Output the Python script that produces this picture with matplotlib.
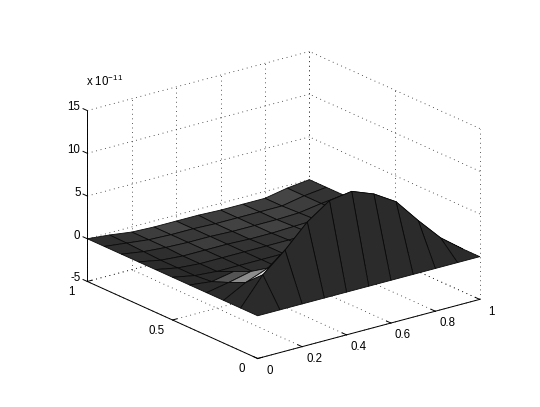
import matplotlib
matplotlib.use("Agg")
import matplotlib.pyplot as plt
import numpy as np
from mpl_toolkits.mplot3d import proj3d

plt.rcParams["font.family"] = ["Liberation Sans", "DejaVu Sans"]
plt.rcParams["mathtext.fontset"] = "custom"
plt.rcParams["mathtext.rm"] = "Liberation Sans"
plt.rcParams["mathtext.default"] = "regular"

X_VALUES = [0.0, 0.1, 0.2, 0.3, 0.4, 0.5, 0.6, 0.7, 0.8, 0.9, 1.0]
Y_VALUES = [0.0, 0.1, 0.2, 0.3, 0.4, 0.5, 0.6, 0.7, 0.8, 0.9, 1.0]

# height in units of 1e-11, one row per y value
Z_ROWS = [
    [0, 0, 0, 0, 0, 0, 0, 0, 0, 0, 0],
    [0, 3.2, 5.4, 8.0, 9.8, 10.2, 9.2, 7.6, 4.7, 2.0, 0],
    [0, 1.4, 2.4, 0.6, -0.2, -0.4, -0.3, -0.3, -0.2, -0.1, 0],
    [0, 0.5, 1.1, -0.4, -0.6, -0.5, -0.5, -0.4, -0.3, -0.2, 0],
    [0, -0.3, 0.2, -0.7, -0.7, -0.6, -0.6, -0.5, -0.4, -0.2, 0],
    [0, -0.5, -0.7, -0.7, -0.7, -0.7, -0.7, -0.6, -0.4, -0.2, 0],
    [0, -0.5, -0.7, -0.7, -0.7, -0.7, -0.7, -0.6, -0.5, -0.3, 0],
    [0, -0.5, -0.7, -0.7, -0.7, -0.8, -0.8, -0.7, -0.6, -0.3, 0],
    [0, -0.4, -0.6, -0.7, -0.7, -0.8, -0.8, -0.8, -0.7, -0.3, 0],
    [0, -0.3, -0.6, -0.7, -0.7, -0.8, -0.8, -0.8, -0.8, -0.3, 0],
    [0, -0.25, -0.6, -0.7, -0.7, -0.7, -0.8, -0.8, -0.8, -0.3, 0],
]

# grey level of each face, rows follow y
GREY_ROWS = [
    [.17, .17, .17, .17, .17, .17, .17, .17, .17, .17],
    [.17, .85, .17, .17, .17, .17, .17, .17, .17, .17],
    [.17, .55, .22, .19, .19, .19, .19, .19, .19, .19],
    [.17, .33, .22, .19, .19, .19, .19, .19, .19, .19],
    [.17, .17, .18, .18, .18, .18, .18, .18, .18, .18],
    [.17, .16, .18, .18, .18, .22, .20, .18, .18, .18],
    [.17, .18, .20, .20, .20, .20, .22, .24, .20, .18],
    [.18, .18, .22, .24, .20, .24, .26, .22, .22, .20],
    [.18, .22, .24, .22, .24, .26, .22, .26, .24, .20],
    [.18, .20, .24, .27, .22, .24, .27, .24, .27, .22],
]

X_TICKS = [0, 0.2, 0.4, 0.6, 0.8, 1]
X_LABELS = ["0", "0.2", "0.4", "0.6", "0.8", "1"]
Y_TICKS = [0, 0.5, 1]
Y_LABELS = ["0", "0.5", "1"]
Z_TICKS = [-5, 0, 5, 10, 15]
Z_LABELS = ["-5", "0", "5", "10", "15"]

W, H = 540, 407
fig = plt.figure(figsize=(W / 100, H / 100), dpi=100)
side = 423
ax = fig.add_axes([66.3 / W, -15.2 / H, side / W, side / H], projection="3d")
ax.set_proj_type("ortho")
ax.view_init(elev=20.3, azim=-127.5)
ax.set_box_aspect((1, 1, 0.651))
ax.set_xlim(0, 1, view_margin=0)
ax.set_ylim(0, 1, view_margin=0)
ax.set_zlim(-5, 15, view_margin=0)
ax.set_xticks([])
ax.set_yticks([])
ax.set_zticks([])
ax.set_axis_off()
ax.computed_zorder = False

dots = {"color": "#222222", "lw": 0.6, "ls": (0, (1, 4.5)), "zorder": 1}
for x in X_TICKS:
    ax.plot([x, x], [1, 1], [-5, 15], **dots)
    ax.plot([x, x], [0, 1], [-5, -5], **dots)
for y in Y_TICKS:
    ax.plot([1, 1], [y, y], [-5, 15], **dots)
    ax.plot([0, 1], [y, y], [-5, -5], **dots)
for z in Z_TICKS:
    ax.plot([0, 1], [1, 1], [z, z], **dots)
    ax.plot([1, 1], [0, 1], [z, z], **dots)

xg, yg = np.meshgrid(X_VALUES, Y_VALUES)
grey = np.array(GREY_ROWS)
colors = np.dstack([grey, grey, grey, np.ones_like(grey)])
ax.plot_surface(xg, yg, np.array(Z_ROWS, dtype=float), facecolors=colors, shade=False,
                rstride=1, cstride=1, edgecolor="#0a0a0a", linewidth=0.6, zorder=2)

solid = {"color": "black", "lw": 0.7, "zorder": 3}
ax.plot([0, 1], [0, 0], [-5, -5], **solid)
ax.plot([0, 0], [0, 1], [-5, -5], **solid)
ax.plot([0, 0], [1, 1], [-5, 15], **solid)


def put_label(x, y, z, text, ha):
    # plain 2D text at the projected spot of a 3D point
    px, py, _ = proj3d.proj_transform(x, y, z, ax.get_proj())
    ax.text2D(px, py, text, transform=ax.transData, ha=ha, va="center", fontsize=8.3)


for x, lab in zip(X_TICKS, X_LABELS):
    ax.plot([x, x], [0, 0.025], [-5, -5], **solid)
    put_label(x, -0.07, -5.8, lab, "center")
for y, lab in zip(Y_TICKS, Y_LABELS):
    ax.plot([0, 0.02], [y, y], [-5, -5], **solid)
    put_label(-0.07, y, -5.8, lab, "center")
for z, lab in zip(Z_TICKS, Z_LABELS):
    ax.plot([0, 0], [1, 1.025], [z, z], **solid)
    put_label(0, 1.04, z, lab, "right")

fig.text(86 / W, 1 - 81 / H, r"x 10$^{-11}$", ha="left", va="center", fontsize=8.3)
fig.savefig("out.png", dpi=100)
